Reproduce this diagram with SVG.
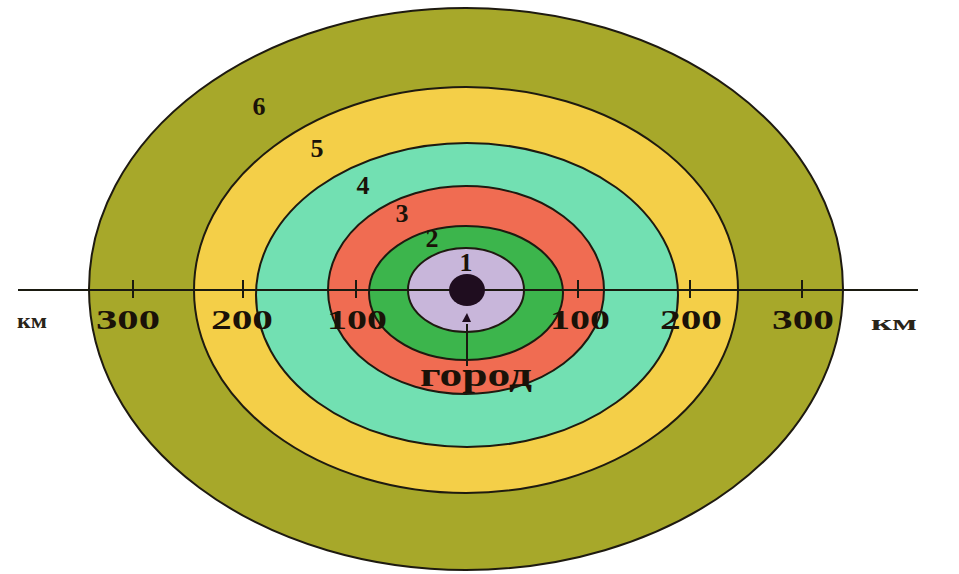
<svg xmlns="http://www.w3.org/2000/svg" width="959" height="574" viewBox="0 0 959 574">
<style>
.ring{stroke:#1e1a10;stroke-width:2}
.lbl{font-family:"Liberation Serif","DejaVu Serif",serif;font-weight:bold;fill:#1a1208}
.num{font-size:26px;text-anchor:middle}
.scale{font-size:27px;text-anchor:middle}
.km{font-family:"Liberation Serif","DejaVu Serif",serif;font-weight:bold;fill:#2a2418;font-size:20px;text-anchor:middle}
.axis{stroke:#1a1a10;stroke-width:2;fill:none}
</style>
<rect width="959" height="574" fill="#ffffff"/>
<g id="zone6"><ellipse class="ring" cx="466" cy="289" rx="377" ry="281" fill="#a7a82a"/></g>
<g id="zone5"><ellipse class="ring" cx="466" cy="290" rx="272" ry="203" fill="#f4cf48"/></g>
<g id="zone4"><ellipse class="ring" cx="467" cy="295" rx="211" ry="152" fill="#72e0b2"/></g>
<g id="zone3"><ellipse class="ring" cx="466" cy="290" rx="138" ry="104" fill="#f06c52"/></g>
<g id="zone2"><ellipse class="ring" cx="466" cy="293" rx="97" ry="67" fill="#3cb54c"/></g>
<g id="zone1"><ellipse class="ring" cx="466" cy="290" rx="58" ry="42" fill="#c8b6da"/></g>
<g id="connectors">
<line class="axis" x1="18" y1="290" x2="918" y2="290"/>
<g class="axis">
<line x1="133" y1="280" x2="133" y2="298"/>
<line x1="243" y1="280" x2="243" y2="298"/>
<line x1="356" y1="280" x2="356" y2="298"/>
<line x1="578" y1="280" x2="578" y2="298"/>
<line x1="690" y1="280" x2="690" y2="298"/>
<line x1="802" y1="280" x2="802" y2="298"/>
<line x1="467" y1="324" x2="467" y2="366"/>
</g>
</g>
<g id="city">
<ellipse cx="467" cy="290" rx="18" ry="16" fill="#1f0d1f"/>
<polygon points="462,322 467,313 471,322" fill="#1f0d1f"/>
<text class="lbl" x="476" y="386" font-size="34" text-anchor="middle" textLength="112" lengthAdjust="spacingAndGlyphs">город</text>
</g>
<g id="labels">
<text class="lbl num" x="259" y="115">6</text>
<text class="lbl num" x="317" y="157">5</text>
<text class="lbl num" x="363" y="194">4</text>
<text class="lbl num" x="402" y="222">3</text>
<text class="lbl num" x="432" y="247">2</text>
<text class="lbl num" x="466" y="271">1</text>
<text class="km" x="32" y="328" textLength="30" lengthAdjust="spacingAndGlyphs">км</text>
<text class="lbl scale" x="128" y="329" textLength="64" lengthAdjust="spacingAndGlyphs">300</text>
<text class="lbl scale" x="242" y="329" textLength="62" lengthAdjust="spacingAndGlyphs">200</text>
<text class="lbl scale" x="357" y="329" textLength="60" lengthAdjust="spacingAndGlyphs">100</text>
<text class="lbl scale" x="580" y="329" textLength="60" lengthAdjust="spacingAndGlyphs">100</text>
<text class="lbl scale" x="691" y="329" textLength="62" lengthAdjust="spacingAndGlyphs">200</text>
<text class="lbl scale" x="803" y="329" textLength="62" lengthAdjust="spacingAndGlyphs">300</text>
<text class="km" x="894" y="330" textLength="46" lengthAdjust="spacingAndGlyphs">км</text>
</g>
</svg>
